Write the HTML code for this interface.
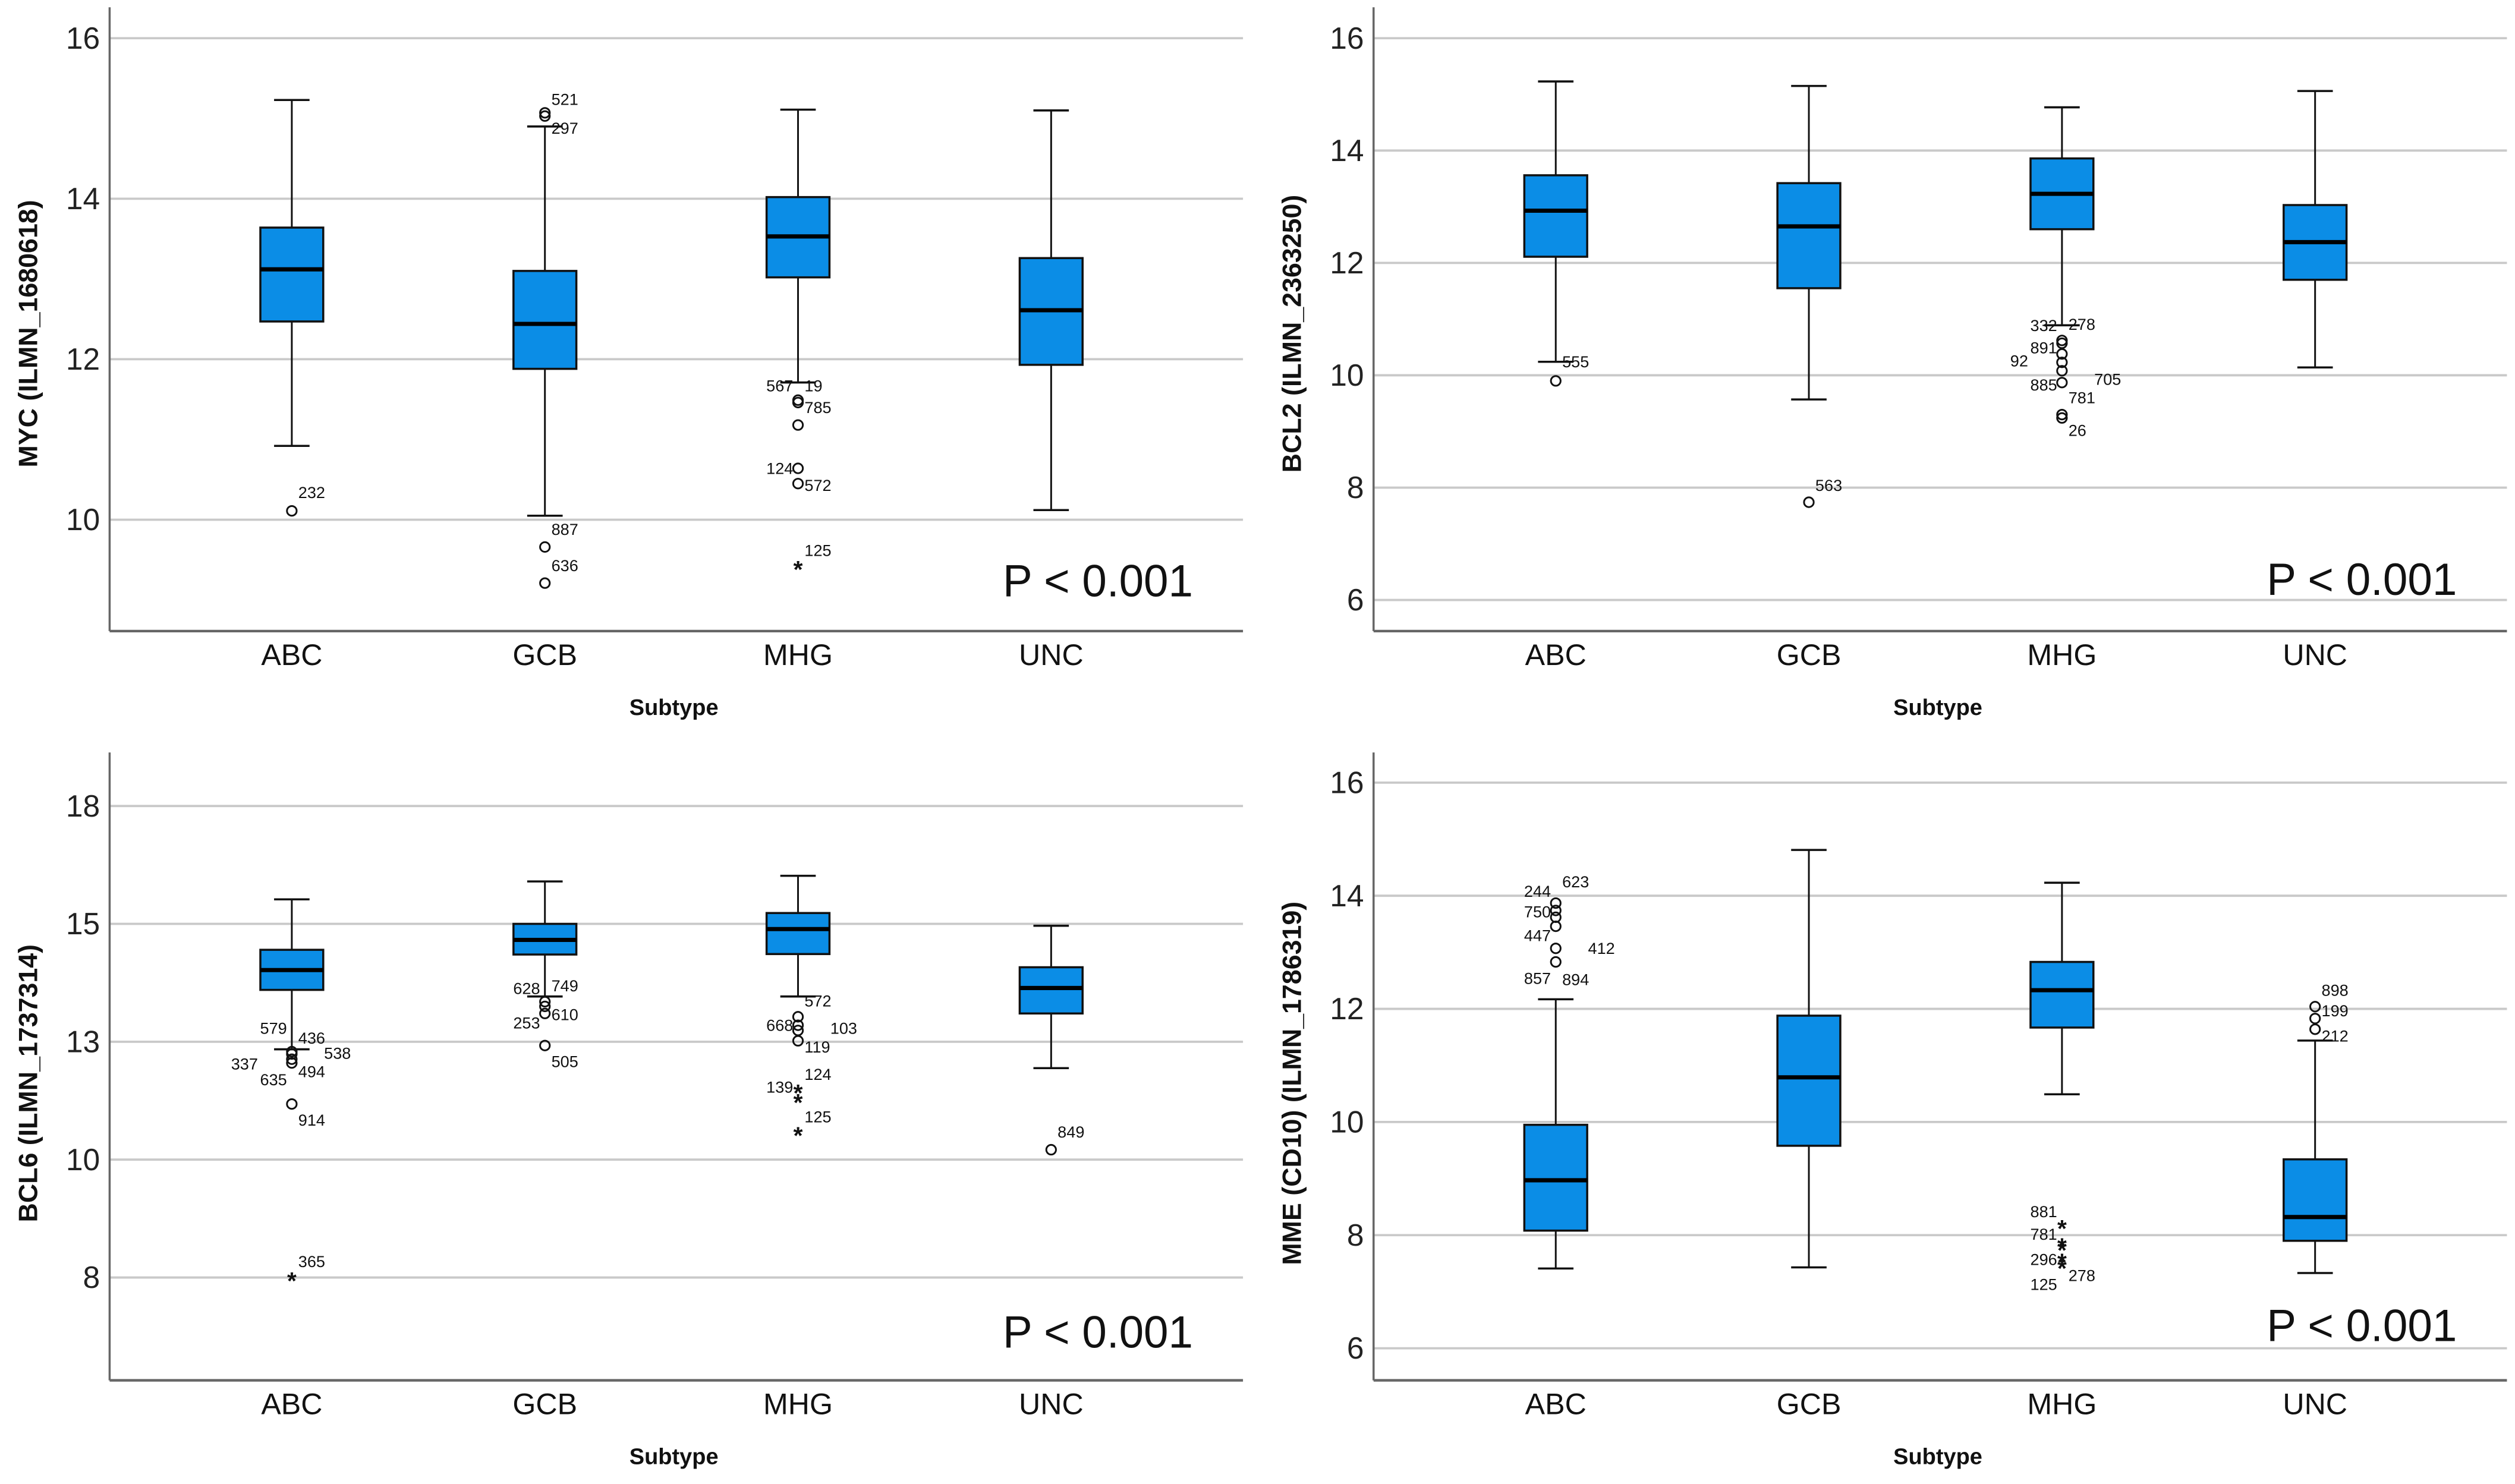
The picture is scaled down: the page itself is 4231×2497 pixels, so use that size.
<!DOCTYPE html>
<html><head><meta charset="utf-8"><style>
html,body{margin:0;padding:0;background:#fff;}
svg{display:block;font-family:"Liberation Sans",sans-serif;}
</style></head><body>
<svg id="chart" xmlns="http://www.w3.org/2000/svg" width="4231" height="2497" viewBox="0 0 1560 920.6" preserveAspectRatio="none">
<rect x="0" y="0" width="1560" height="920.6" fill="#fff"/>
</svg>
<script>
const categories = ["ABC","GCB","MHG","UNC"];

// MYC
const mycWhiskerHigh = [15.23, 14.90, 15.11, 15.10];
const mycQ3 = [13.64, 13.10, 14.02, 13.26];
const mycMedian = [13.12, 12.44, 13.53, 12.61];
const mycQ1 = [12.47, 11.88, 13.02, 11.93];
const mycWhiskerLow = [10.92, 10.05, 11.71, 10.12];
const mycOutliers = [[0,10.11,"o"],[1,15.07,"o"],[1,15.03,"o"],[1,9.66,"o"],[1,9.21,"o"],[2,11.49,"o"],[2,11.46,"o"],[2,11.18,"o"],[2,10.64,"o"],[2,10.45,"o"],[2,9.40,"*"]];
const mycLabels = [[0,10.34,"232","R"],[1,15.24,"521","R"],[1,14.88,"297","R"],[1,9.88,"887","R"],[1,9.43,"636","R"],[2,11.67,"567","L"],[2,11.67,"19","R"],[2,11.40,"785","R"],[2,10.64,"124","L"],[2,10.43,"572","R"],[2,9.62,"125","R"]];
const mycTicks = [10,12,14,16];
const mycTickLabels = ["10","12","14","16"];

// BCL2
const bcl2WhiskerHigh = [15.23, 15.15, 14.77, 15.06];
const bcl2Q3 = [13.56, 13.42, 13.86, 13.03];
const bcl2Median = [12.93, 12.65, 13.23, 12.37];
const bcl2Q1 = [12.11, 11.55, 12.60, 11.70];
const bcl2WhiskerLow = [10.24, 9.57, 10.89, 10.14];
const bcl2Outliers = [[0,9.90,"o"],[1,7.74,"o"],[2,10.62,"o"],[2,10.57,"o"],[2,10.38,"o"],[2,10.23,"o"],[2,10.08,"o"],[2,9.87,"o"],[2,9.30,"o"],[2,9.24,"o"]];
const bcl2Labels = [[0,10.24,"555","R"],[1,8.04,"563","R"],[2,10.89,"332","L"],[2,10.91,"278","R"],[2,10.49,"891","L"],[2,10.26,"92","LL"],[2,9.83,"885","L"],[2,9.93,"705","RR"],[2,9.60,"781","R"],[2,9.02,"26","R"]];
const bcl2Ticks = [6,8,10,12,14,16];
const bcl2TickLabels = ["6","8","10","12","14","16"];

// BCL6
const bcl6WhiskerHigh = [15.52, 15.90, 16.02, 14.96];
const bcl6Q3 = [14.45, 15.00, 15.23, 14.08];
const bcl6Median = [14.02, 14.66, 14.89, 13.64];
const bcl6Q1 = [13.60, 14.35, 14.36, 13.10];
const bcl6WhiskerLow = [12.34, 13.46, 13.46, 11.94];
const bcl6Outliers = [[0,12.29,"o"],[0,12.24,"o"],[0,12.13,"o"],[0,12.05,"o"],[0,11.18,"o"],[0,7.46,"*"],[1,13.35,"o"],[1,13.25,"o"],[1,13.10,"o"],[1,12.42,"o"],[2,13.03,"o"],[2,12.85,"o"],[2,12.74,"o"],[2,12.52,"o"],[2,11.44,"*"],[2,11.24,"*"],[2,10.54,"*"],[3,10.21,"o"]];
const bcl6Labels = [[0,12.79,"579","L"],[0,12.58,"436","R"],[0,12.26,"538","RR"],[0,12.03,"337","LL"],[0,11.70,"635","L"],[0,11.87,"494","R"],[0,10.84,"914","R"],[0,7.84,"365","R"],[1,13.63,"628","L"],[1,13.69,"749","R"],[1,13.08,"610","R"],[1,12.90,"253","L"],[1,12.08,"505","R"],[2,13.37,"572","R"],[2,12.85,"668","L"],[2,12.79,"103","RR"],[2,12.39,"119","R"],[2,11.81,"124","R"],[2,11.54,"139","L"],[2,10.91,"125","R"],[3,10.59,"849","R"]];
const bcl6Ticks = [7.5,10,12.5,15,17.5];
const bcl6TickLabels = ["8","10","13","15","18"];

// MME
const mmeWhiskerHigh = [12.17, 14.81, 14.23, 11.44];
const mmeQ3 = [9.95, 11.88, 12.83, 9.34];
const mmeMedian = [8.97, 10.79, 12.33, 8.32];
const mmeQ1 = [8.08, 9.58, 11.67, 7.90];
const mmeWhiskerLow = [7.41, 7.43, 10.49, 7.33];
const mmeOutliers = [[0,13.87,"o"],[0,13.74,"o"],[0,13.62,"o"],[0,13.46,"o"],[0,13.07,"o"],[0,12.83,"o"],[2,8.14,"*"],[2,7.82,"*"],[2,7.76,"*"],[2,7.55,"*"],[2,7.44,"*"],[3,12.04,"o"],[3,11.83,"o"],[3,11.64,"o"]];
const mmeLabels = [[0,14.08,"244","L"],[0,14.25,"623","R"],[0,13.72,"750","L"],[0,13.30,"447","L"],[0,13.07,"412","RR"],[0,12.54,"857","L"],[0,12.52,"894","R"],[2,8.42,"881","L"],[2,8.02,"781","L"],[2,7.57,"296","L"],[2,7.13,"125","L"],[2,7.29,"278","R"],[3,12.33,"898","R"],[3,11.97,"199","R"],[3,11.52,"212","R"]];
const mmeTicks = [6,8,10,12,14,16];
const mmeTickLabels = ["6","8","10","12","14","16"];

const svg = document.getElementById('chart');
const NS = "http://www.w3.org/2000/svg";
function mk(tag, attrs, parent){
  const e = document.createElementNS(NS, tag);
  for (const k in attrs) e.setAttribute(k, attrs[k]);
  (parent||svg).appendChild(e);
  return e;
}

function drawPanel(cfg){
  const g = mk('g', {});
  
  
  const k = (cfg.py2 - cfg.py1) / (cfg.v2 - cfg.v1);
  const y = v => cfg.py1 + (v - cfg.v1) * k;
  const x = i => cfg.x0 + 113 + 157 * i;
  cfg.ticks.forEach((t, i) => {
    const gl = mk('line', {x1: cfg.x0, x2: cfg.x1, y1: y(t), y2: y(t), stroke: '#c9c9c9', 'stroke-width': 1.4}, g);
    
    
    const tl = mk('text', {x: cfg.x0 - 6, y: y(t) + 6.5, 'text-anchor': 'end', 'font-size': 19, fill: '#222'}, g);
    tl.textContent = cfg.tickLabels[i];
    
    
  });
  const ya = mk('line', {x1: cfg.x0, x2: cfg.x0, y1: cfg.top, y2: cfg.bottom, stroke: '#666', 'stroke-width': 1.3}, g);
  
  
  const xa = mk('line', {x1: cfg.x0, x2: cfg.x1, y1: cfg.bottom, y2: cfg.bottom, stroke: '#666', 'stroke-width': 1.6}, g);
  
  
  categories.forEach((c, i) => {
    const cx = x(i);
    const bg = mk('g', {}, g);
    
    
    mk('line', {x1: cx, x2: cx, y1: y(cfg.hi[i]), y2: y(cfg.q3[i]), stroke: '#111', 'stroke-width': 1.1}, bg);
    mk('line', {x1: cx, x2: cx, y1: y(cfg.q1[i]), y2: y(cfg.lo[i]), stroke: '#111', 'stroke-width': 1.1}, bg);
    mk('line', {x1: cx - 11, x2: cx + 11, y1: y(cfg.hi[i]), y2: y(cfg.hi[i]), stroke: '#111', 'stroke-width': 1.3}, bg);
    mk('line', {x1: cx - 11, x2: cx + 11, y1: y(cfg.lo[i]), y2: y(cfg.lo[i]), stroke: '#111', 'stroke-width': 1.3}, bg);
    mk('rect', {x: cx - 19.5, y: y(cfg.q3[i]), width: 39, height: y(cfg.q1[i]) - y(cfg.q3[i]), fill: '#0b8de6', stroke: '#111', 'stroke-width': 1.3}, bg);
    mk('line', {x1: cx - 19.5, x2: cx + 19.5, y1: y(cfg.med[i]), y2: y(cfg.med[i]), stroke: '#000', 'stroke-width': 2.6}, bg);
    const cl = mk('text', {x: cx, y: cfg.bottom + 21, 'text-anchor': 'middle', 'font-size': 18.5, fill: '#111'}, g);
    cl.textContent = c;
    
    
  });
  cfg.outliers.forEach(o => {
    const cx = x(o[0]), cy = y(o[1]);
    if (o[2] === 'o') {
      const c = mk('circle', {cx: cx, cy: cy, r: 3, fill: 'none', stroke: '#111', 'stroke-width': 1.1}, g);
      
      
    } else {
      const s = mk('text', {x: cx, y: cy + 6, 'text-anchor': 'middle', 'font-size': 15, 'font-weight': 'bold', fill: '#111'}, g);
      s.textContent = '*';
      
      
    }
  });
  cfg.labels.forEach(l => {
    const cx = x(l[0]), cy = y(l[1]);
    const off = {R: 4, RR: 20, L: -3, LL: -21}[l[3]];
    const anchor = l[3][0] === 'R' ? 'start' : 'end';
    const t = mk('text', {x: cx + off, y: cy + 3.5, 'text-anchor': anchor, 'font-size': 10, fill: '#111'}, g);
    t.textContent = l[2];
    
    
  });
  const xt = mk('text', {x: cfg.x0 + 350, y: cfg.bottom + 52, 'text-anchor': 'middle', 'font-size': 14, 'font-weight': 'bold', fill: '#111'}, g);
  xt.textContent = 'Subtype';
  
  
  const ytY = cfg.ytitleY;
  const tx = cfg.x0 - 45;
  const yt = mk('text', {x: tx, y: ytY, 'text-anchor': 'middle', 'font-size': 16.5, 'font-weight': 'bold', fill: '#111', transform: 'rotate(-90 ' + tx + ' ' + ytY + ')'}, g);
  yt.textContent = cfg.ytitle;
  
  
  const p = mk('text', {x: cfg.x1 - 31, y: cfg.pY, 'text-anchor': 'end', 'font-size': 28, fill: '#111', textLength: 118, lengthAdjust: 'spacingAndGlyphs'}, g);
  p.textContent = 'P < 0.001';
  
  
}

drawPanel({name:'myc-panel', x0:68, x1:771, top:4.5, bottom:391.5, v1:16, py1:23.7, v2:10, py2:322.4,
  ticks:mycTicks, tickLabels:mycTickLabels, hi:mycWhiskerHigh, q3:mycQ3, med:mycMedian, q1:mycQ1, lo:mycWhiskerLow,
  outliers:mycOutliers, labels:mycLabels, ytitle:'MYC (ILMN_1680618)', ytitleY:207, pY:370});
drawPanel({name:'bcl2-panel', x0:852, x1:1555, top:4.5, bottom:391.5, v1:16, py1:23.7, v2:6, py2:372.2,
  ticks:bcl2Ticks, tickLabels:bcl2TickLabels, hi:bcl2WhiskerHigh, q3:bcl2Q3, med:bcl2Median, q1:bcl2Q1, lo:bcl2WhiskerLow,
  outliers:bcl2Outliers, labels:bcl2Labels, ytitle:'BCL2 (ILMN_2363250)', ytitleY:207, pY:369});
drawPanel({name:'bcl6-panel', x0:68, x1:771, top:466.8, bottom:856.3, v1:17.5, py1:500, v2:7.5, py2:792.5,
  ticks:bcl6Ticks, tickLabels:bcl6TickLabels, hi:bcl6WhiskerHigh, q3:bcl6Q3, med:bcl6Median, q1:bcl6Q1, lo:bcl6WhiskerLow,
  outliers:bcl6Outliers, labels:bcl6Labels, ytitle:'BCL6 (ILMN_1737314)', ytitleY:672, pY:836});
drawPanel({name:'mme-panel', x0:852, x1:1555, top:466.8, bottom:856.3, v1:16, py1:485.5, v2:6, py2:836.4,
  ticks:mmeTicks, tickLabels:mmeTickLabels, hi:mmeWhiskerHigh, q3:mmeQ3, med:mmeMedian, q1:mmeQ1, lo:mmeWhiskerLow,
  outliers:mmeOutliers, labels:mmeLabels, ytitle:'MME (CD10) (ILMN_1786319)', ytitleY:672, pY:832});
</script>
</body></html>
